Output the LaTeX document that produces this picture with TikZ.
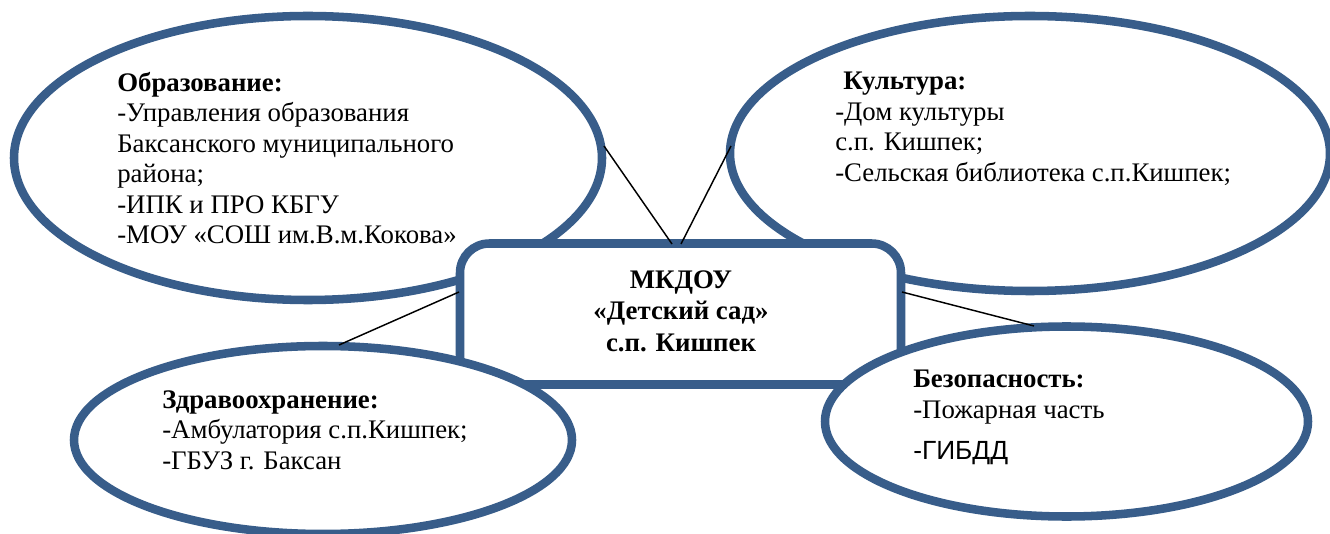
\documentclass[tikz,border=0pt]{standalone}
\usepackage{fontspec}
\setmainfont{Liberation Serif}
\newfontfamily\sansf{Liberation Sans}
\usetikzlibrary{shapes.geometric}
\definecolor{rim}{HTML}{385D8A}
\newlength{\unit}\setlength{\unit}{0.75pt}
\tikzset{
  oval/.style={draw=rim,line width=6.4pt,fill=white,ellipse,inner sep=0pt,outer sep=0pt},
  hub/.style={draw=rim,line width=6.4pt,fill=white,rounded corners=22pt,inner sep=0pt,outer sep=0pt,minimum width=441\unit,minimum height=141\unit},
  txt/.style={anchor=north west,inner sep=0pt,align=left,font=\fontsize{26.8\unit}{30.5\unit}\selectfont,text=black},
  link/.style={draw=black,line width=1.1pt}
}
\begin{document}
\begin{tikzpicture}[x=0.75pt,y=-0.75pt]
\useasboundingbox (0,0) rectangle (1330,534);
\fill[white] (0,0) rectangle (1330,534);
\node[oval,minimum width=588\unit,minimum height=284\unit] (edu) at (308,158) {};
\node[oval,minimum width=600\unit,minimum height=275\unit] (cul) at (1030,153.5) {};
\node[hub] (hub) at (680.5,314) {};
\node[oval,minimum width=498\unit,minimum height=188\unit] (hea) at (323,440) {};
\node[oval,minimum width=483\unit,minimum height=190\unit] (saf) at (1066.5,421.5) {};
\coordinate (a1) at (604,146); \coordinate (a2) at (672,244);
\coordinate (b1) at (731,146); \coordinate (b2) at (681,244);
\coordinate (c1) at (459,292); \coordinate (c2) at (339,345);
\coordinate (d1) at (902,292); \coordinate (d2) at (1034,326);
\draw[link] (a1) -- (a2); \draw[link] (b1) -- (b2);
\draw[link] (c1) -- (c2); \draw[link] (d1) -- (d2);
\node[txt] (t1) at (117,72) {\textbf{Образование:}\\-Управления образования\\Баксанского муниципального\\района;\\-ИПК и ПРО КБГУ\\-МОУ «СОШ им.В.м.Кокова»};
\node[txt] (t2) at (835,72) {\hspace{8\unit}\textbf{Культура:}\\-Дом культуры\\с.п. Кишпек;\\-Сельская библиотека с.п.Кишпек;};
\node[txt,anchor=center,align=center,font=\fontsize{26.8\unit}{31.5\unit}\selectfont\bfseries] (t3) at (681,311) {МКДОУ\\«Детский сад»\\с.п. Кишпек};
\node[txt] (t4) at (162,390) {\textbf{Здравоохранение:}\\-Амбулатория с.п.Кишпек;\\-ГБУЗ г. Баксан};
\node[txt] (t5) at (913,370) {\textbf{Безопасность:}\\-Пожарная часть};
\node[txt,font=\fontsize{26.3\unit}{30\unit}\sansf] (t6) at (913,441) {-ГИБДД};
\end{tikzpicture}
\end{document}
